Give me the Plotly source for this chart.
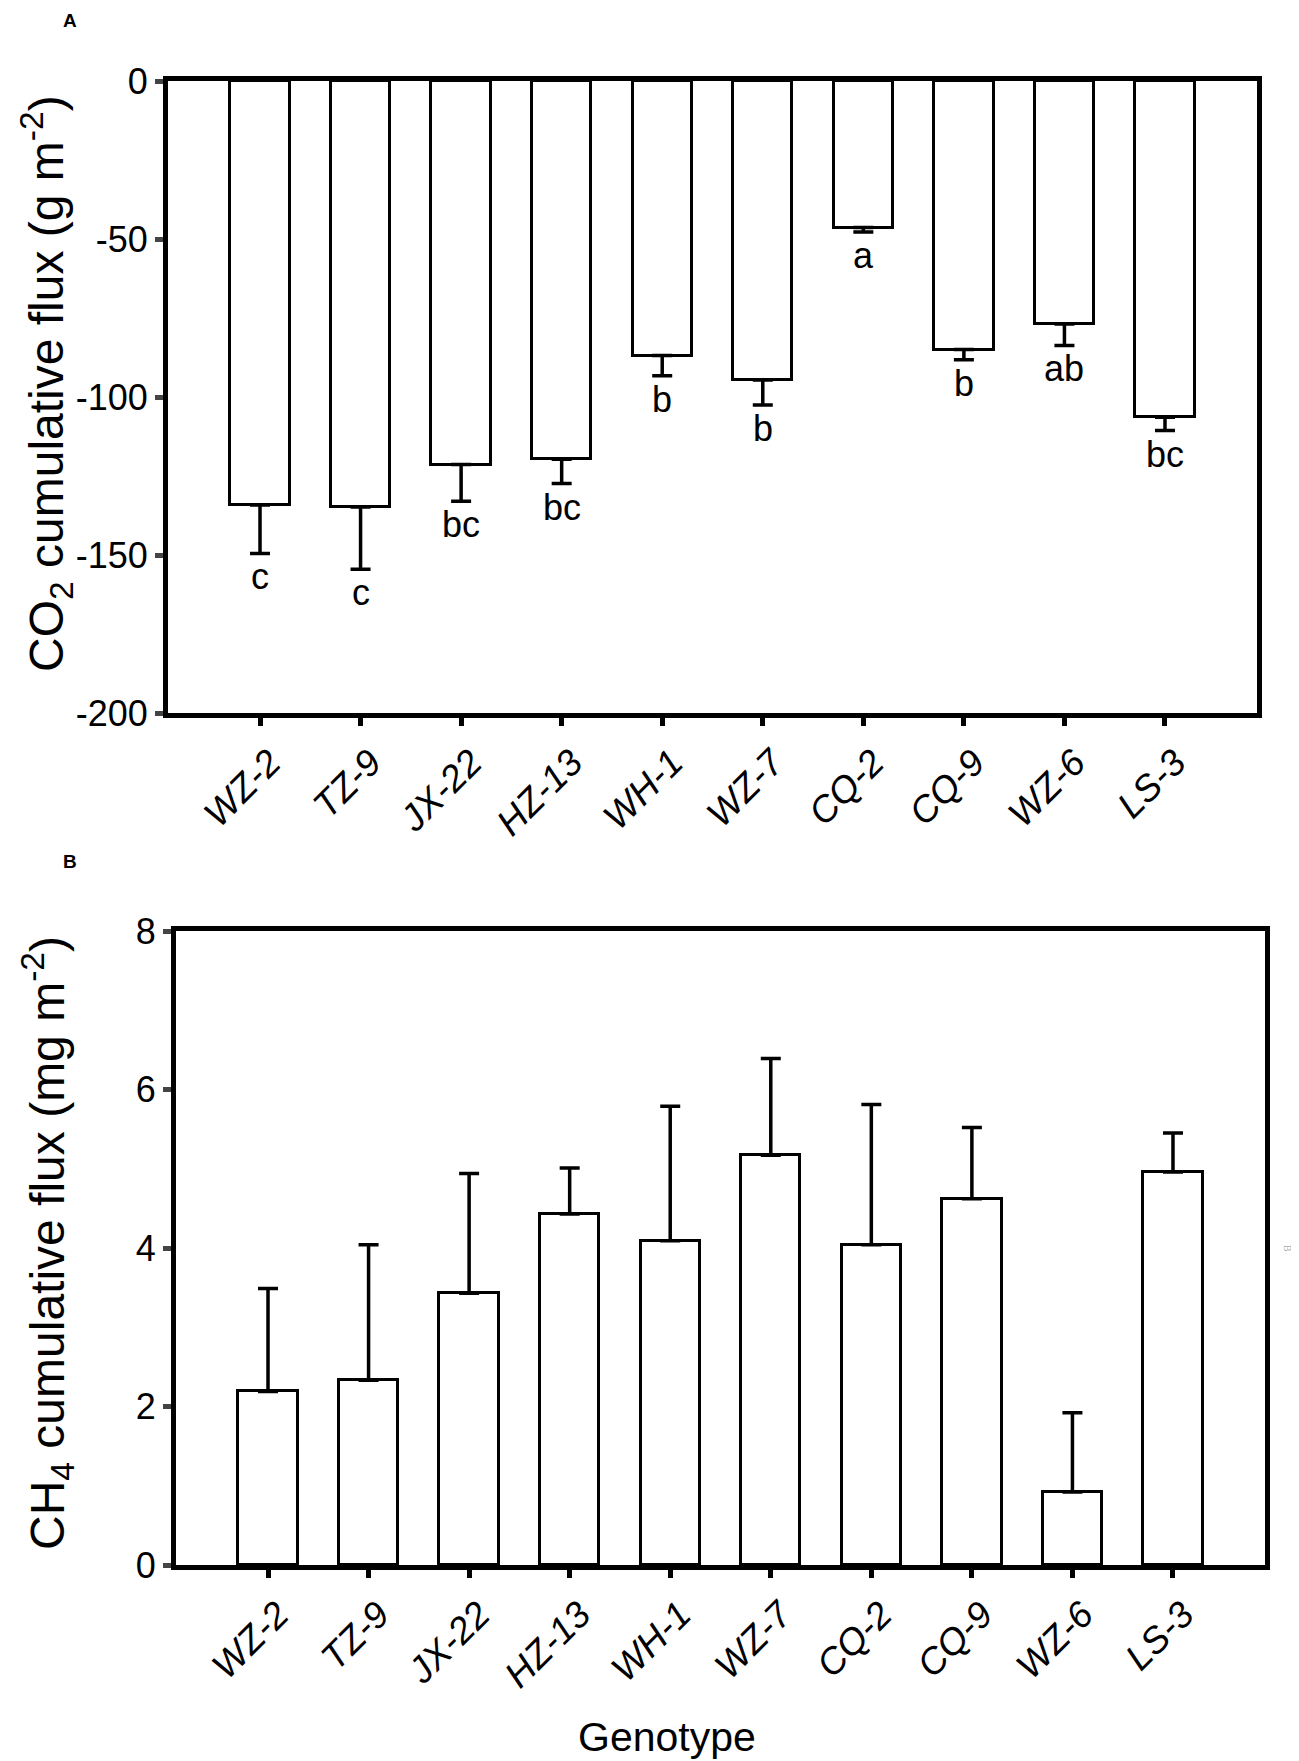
"""Cumulative CO2 and CH4 flux by rice genotype, two stacked bar panels (A, B)."""

import plotly.graph_objects as go

# data
GENOTYPES = ["WZ-2", "TZ-9", "JX-22", "HZ-13", "WH-1", "WZ-7", "CQ-2", "CQ-9", "WZ-6", "LS-3"]
CO2_MEAN = [-134.2, -134.8, -121.4, -119.7, -86.9, -94.6, -46.4, -85.0, -76.9, -106.4]
CO2_SD = [15.3, 19.7, 11.6, 7.7, 6.4, 7.9, 1.4, 3.2, 6.8, 4.2]
CO2_LETTERS = ["c", "c", "bc", "bc", "b", "b", "a", "b", "ab", "bc"]
CH4_MEAN = [2.19, 2.33, 3.43, 4.43, 4.09, 5.17, 4.04, 4.62, 0.92, 4.96]
CH4_SD = [1.30, 1.71, 1.51, 0.58, 1.70, 1.22, 1.77, 0.90, 1.00, 0.49]
CO2_TICKS = [0, -50, -100, -150, -200]
CO2_TICKTEXT = ["0", "-50", "-100", "-150", "-200"]
CH4_TICKS = [0, 2, 4, 6, 8]

W, H = 1299, 1761
OFF = 8  # the page body margin pushes the figure this far right/down
FONT = "Liberation Sans, Arial, sans-serif"
BLACK = "#000000"
TICK_GREY = "#444444"


def _px(x0, x1):
    return [(x0 - OFF) / W, (x1 - OFF) / W]


def _py(top, bottom):
    return [1 - (bottom - OFF) / H, 1 - (top - OFF) / H]


def _bars(y, plus, minus, xa, ya):
    return go.Bar(
        x=GENOTYPES,
        y=y,
        width=0.59,
        marker=dict(color="white", line=dict(color=BLACK, width=3)),
        error_y=dict(
            type="data",
            symmetric=False,
            array=plus,
            arrayminus=minus,
            color=BLACK,
            thickness=3.5,
            width=10,
        ),
        xaxis=xa,
        yaxis=ya,
        showlegend=False,
        hoverinfo="skip",
    )


def _note(text, x, y, size, angle=0, bold=False, color=BLACK, family=FONT):
    fig.add_annotation(
        x=(x - OFF) / W, y=1 - (y - OFF) / H, xref="paper", yref="paper",
        xanchor="center", yanchor="middle",
        text=f"<b>{text}</b>" if bold else text,
        textangle=angle, showarrow=False,
        font=dict(family=family, size=size, color=color),
    )


fig = go.Figure()
fig.add_trace(_bars(CO2_MEAN, [0] * len(CO2_SD), CO2_SD, "x", "y"))
fig.add_trace(_bars(CH4_MEAN, CH4_SD, [0] * len(CH4_SD), "x2", "y2"))

xcommon = dict(
    type="category",
    range=[-0.915, 9.915],
    showline=True,
    linewidth=5,
    linecolor=BLACK,
    mirror=True,
    ticks="outside",
    ticklen=8,
    tickwidth=5,
    tickcolor=BLACK,
    tickangle=-45,
    ticklabelshift=10,
    tickfont=dict(family=FONT, size=37, color=BLACK, style="italic"),
    showgrid=False,
    zeroline=False,
    automargin=False,
)
ycommon = dict(
    showline=True,
    linewidth=5,
    linecolor=BLACK,
    mirror=True,
    ticks="outside",
    ticklen=8,
    tickwidth=5,
    tickcolor=TICK_GREY,
    tickfont=dict(family=FONT, size=36, color=BLACK),
    showgrid=False,
    zeroline=False,
    automargin=False,
)

fig.update_layout(
    template="none",
    width=W,
    height=H,
    margin=dict(l=0, r=0, t=0, b=0, pad=0),
    paper_bgcolor="white",
    plot_bgcolor="white",
    font=dict(family=FONT, color=BLACK),
    bargap=0,
    xaxis=dict(xcommon, domain=_px(168, 1257), anchor="y"),
    yaxis=dict(ycommon, domain=_py(81, 713), anchor="x", range=[-200, 0],
               tickvals=CO2_TICKS, ticktext=CO2_TICKTEXT),
    xaxis2=dict(xcommon, domain=_px(176, 1265), anchor="y2"),
    yaxis2=dict(ycommon, domain=_py(931, 1565), anchor="x2", range=[0, 8],
                tickvals=CH4_TICKS),
)

# significance letters under the error bars of panel A
for g, m, sd, lab in zip(GENOTYPES, CO2_MEAN, CO2_SD, CO2_LETTERS):
    fig.add_annotation(
        x=g, y=m - sd, xref="x", yref="y",
        text=lab, showarrow=False,
        xanchor="center", yanchor="top", yshift=-2, borderpad=0,
        font=dict(family=FONT, size=36, color=BLACK),
    )

# axis titles, panel tags
_note("CO<sub>2</sub> cumulative flux (g m<sup>-2</sup>)", 47, 384, 48, angle=-90)
_note("CH<sub>4</sub> cumulative flux (mg m<sup>-2</sup>)", 47, 1243, 48, angle=-90)
_note("Genotype", 667, 1737, 41)
_note("A", 70, 20, 19, bold=True)
_note("B", 70, 862, 19, bold=True)
_note("B", 1288, 1248, 10, angle=90, color="#aaaaaa", family="Liberation Serif, serif")

fig.write_html("out.html")
